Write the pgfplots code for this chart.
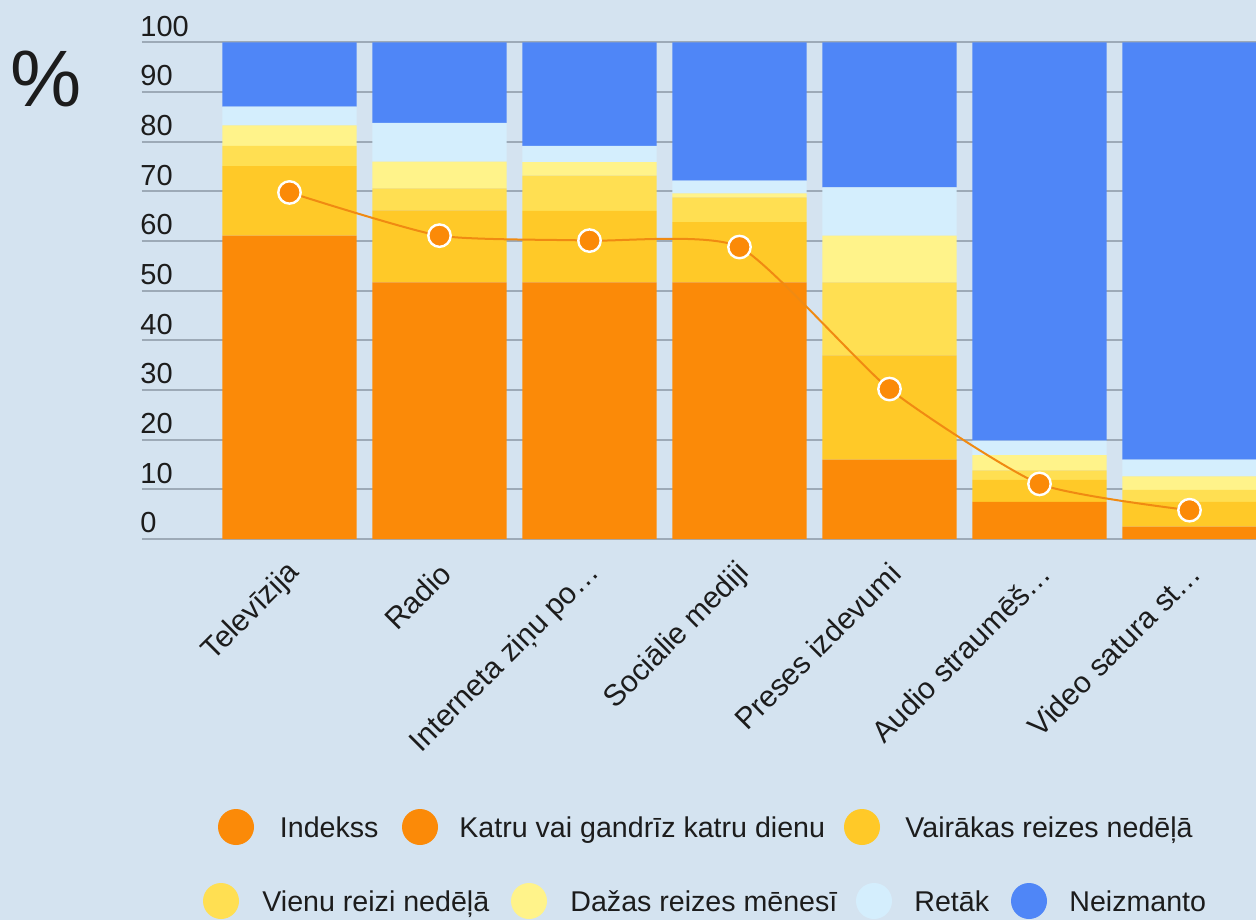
\documentclass[border=0pt]{standalone}
\usepackage{pgfplots}
\pgfplotsset{compat=1.18}
\usepackage{fontspec}
\setmainfont{Liberation Sans}
\definecolor{bg}{HTML}{D4E3F0}
\definecolor{gridc}{HTML}{9DAAB7}
\definecolor{cKatru}{HTML}{FB8A08}
\definecolor{cVair}{HTML}{FFC928}
\definecolor{cVienu}{HTML}{FFDF52}
\definecolor{cDazas}{HTML}{FFF38A}
\definecolor{cRetak}{HTML}{D4EEFD}
\definecolor{cNeiz}{HTML}{4F86F7}
\definecolor{cIdx}{HTML}{F08A12}
\definecolor{txt}{HTML}{1C1C1C}
\begin{document}
\begin{tikzpicture}
\fill[bg] (-71pt,-190.5pt) rectangle (557pt,269.5pt);
\begin{axis}[
  at={(0,0)}, anchor=south west,
  scale only axis, width=557pt, height=248.25pt,
  xmin=-0.9833, xmax=6.4433, ymin=0, ymax=100,
  ybar stacked, bar width=0.896,
  axis line style={draw=none},
  tick style={draw=none},
  ytick={0,10,...,100},
  ymajorgrids, major grid style={color=gridc, line width=1pt},
  xtick={0,...,6},
  xticklabels={Televīzija, Radio, Interneta ziņu po…, Sociālie mediji, Preses izdevumi, Audio straumēš…, Video satura st…},
  /pgf/number format/assume math mode=true,
  yticklabel style={anchor=south west, xshift=-4.3pt, yshift=-0.6pt, font=\fontsize{14.5}{17}\selectfont, text=txt},
  xticklabel style={rotate=45, anchor=east, xshift=-4.9pt, yshift=-12.5pt, font=\fontsize{15}{18}\selectfont, text=txt},
]
\addplot[fill=cKatru, draw=none] coordinates {(0,61.1) (1,51.7) (2,51.7) (3,51.7) (4,16.0) (5,7.5) (6,2.5)};
\addplot[fill=cVair, draw=none] coordinates {(0,14.0) (1,14.5) (2,14.4) (3,12.1) (4,21.0) (5,4.4) (6,5.0)};
\addplot[fill=cVienu, draw=none] coordinates {(0,4.1) (1,4.4) (2,7.1) (3,5.0) (4,14.7) (5,1.9) (6,2.4)};
\addplot[fill=cDazas, draw=none] coordinates {(0,4.1) (1,5.4) (2,2.7) (3,0.8) (4,9.4) (5,3.1) (6,2.7)};
\addplot[fill=cRetak, draw=none] coordinates {(0,3.8) (1,7.8) (2,3.3) (3,2.6) (4,9.7) (5,2.9) (6,3.4)};
\addplot[fill=cNeiz, draw=none] coordinates {(0,12.9) (1,16.2) (2,20.8) (3,27.8) (4,29.2) (5,80.2) (6,84.0)};
\end{axis}
\begin{axis}[
  at={(0,0)}, anchor=south west,
  scale only axis, width=557pt, height=248.25pt,
  xmin=-0.9833, xmax=6.4433, ymin=0, ymax=100,
  hide axis,
]
\addplot[smooth, tension=0.35, color=cIdx, line width=1pt, mark=*, mark size=5.6pt,
  mark options={fill=cKatru, draw=white, line width=1.2pt}]
  coordinates {(0,69.8) (1,61.1) (2,60.1) (3,58.8) (4,30.2) (5,11.1) (6,5.8)};
\end{axis}
\begin{scope}[shift={(-71pt,269.5pt)}, x=0.5pt, y=-0.5pt, every node/.style={inner sep=0pt, text=txt, font=\fontsize{14.3}{17}\selectfont}]
\node[font=\fontsize{40}{40}\selectfont] at (46,79) {\%};
% row 1
\fill[cKatru] (236,827) circle (9pt);
\node[anchor=base west] at (279.5,837) {Indekss};
\fill[cKatru] (420,827) circle (9pt);
\node[anchor=base west] at (459,837) {Katru vai gandrīz katru dienu};
\fill[cVair] (862,827) circle (9pt);
\node[anchor=base west] at (905,837) {Vairākas reizes nedēļā};
% row 2
\fill[cVienu] (221,901) circle (9pt);
\node[anchor=base west] at (262,911) {Vienu reizi nedēļā};
\fill[cDazas] (529,901) circle (9pt);
\node[anchor=base west] at (570,911) {Dažas reizes mēnesī};
\fill[cRetak] (874,901) circle (9pt);
\node[anchor=base west] at (914,911) {Retāk};
\fill[cNeiz] (1029,901) circle (9pt);
\node[anchor=base west] at (1069,911) {Neizmanto};
\end{scope}
\pgfresetboundingbox
\useasboundingbox (-71pt,-190.5pt) rectangle (557pt,269.5pt);
\end{tikzpicture}
\end{document}
